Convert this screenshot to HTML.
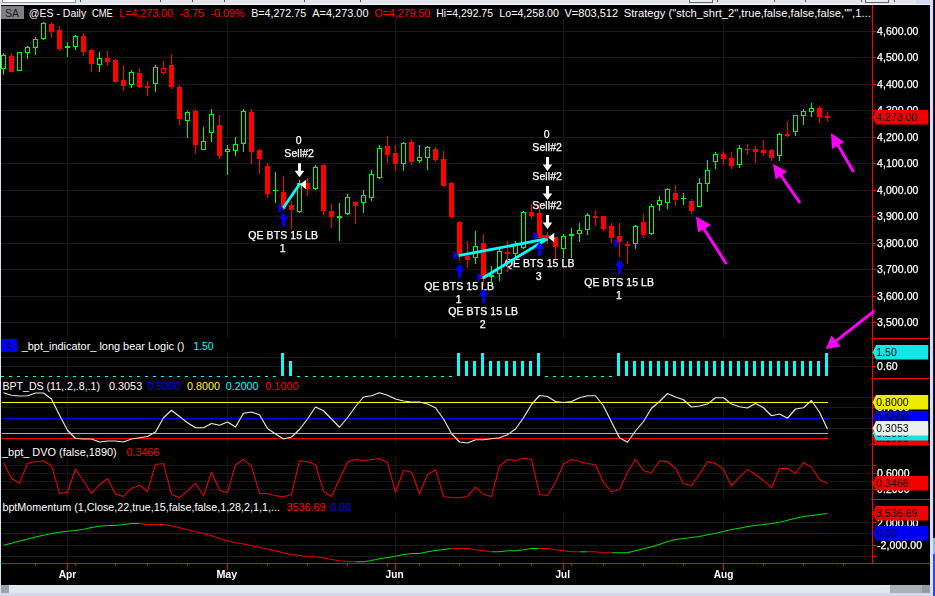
<!DOCTYPE html>
<html><head><meta charset="utf-8"><title>chart</title>
<style>
html,body{margin:0;padding:0;background:#d8dcea;overflow:hidden;}
body{width:935px;height:596px;font-family:"Liberation Sans",sans-serif;}
svg{display:block;position:absolute;left:0;top:0;}
text{white-space:pre;}
</style></head><body>
<svg width="935" height="596" viewBox="0 0 935 596">
<g shape-rendering="crispEdges">
<rect x="1" y="5" width="929" height="580" fill="#000"/>
<rect x="1" y="31" width="871" height="1" fill="#181818"/>
<rect x="1" y="57" width="871" height="1" fill="#181818"/>
<rect x="1" y="84" width="871" height="1" fill="#181818"/>
<rect x="1" y="110" width="871" height="1" fill="#181818"/>
<rect x="1" y="137" width="871" height="1" fill="#181818"/>
<rect x="1" y="163" width="871" height="1" fill="#181818"/>
<rect x="1" y="190" width="871" height="1" fill="#181818"/>
<rect x="1" y="216" width="871" height="1" fill="#181818"/>
<rect x="1" y="243" width="871" height="1" fill="#181818"/>
<rect x="1" y="269" width="871" height="1" fill="#181818"/>
<rect x="1" y="296" width="871" height="1" fill="#181818"/>
<rect x="1" y="322" width="871" height="1" fill="#181818"/>
<rect x="1" y="357" width="871" height="1" fill="#181818"/>
<rect x="1" y="366" width="871" height="1" fill="#181818"/>
<rect x="1" y="397" width="871" height="1" fill="#181818"/>
<rect x="1" y="407" width="871" height="1" fill="#181818"/>
<rect x="1" y="418" width="871" height="1" fill="#181818"/>
<rect x="1" y="428" width="871" height="1" fill="#181818"/>
<rect x="1" y="465" width="871" height="1" fill="#181818"/>
<rect x="1" y="473" width="871" height="1" fill="#181818"/>
<rect x="1" y="481" width="871" height="1" fill="#181818"/>
<rect x="1" y="489" width="871" height="1" fill="#181818"/>
<rect x="1" y="522" width="871" height="1" fill="#181818"/>
<rect x="1" y="533" width="871" height="1" fill="#181818"/>
<rect x="1" y="545" width="871" height="1" fill="#181818"/>
<rect x="1" y="556" width="871" height="1" fill="#181818"/>
<rect x="67" y="19" width="1" height="318" fill="#181818"/>
<rect x="67" y="353" width="1" height="24" fill="#181818"/>
<rect x="67" y="392" width="1" height="52" fill="#181818"/>
<rect x="67" y="458" width="1" height="40" fill="#181818"/>
<rect x="67" y="513" width="1" height="50" fill="#181818"/>
<rect x="227" y="19" width="1" height="318" fill="#181818"/>
<rect x="227" y="353" width="1" height="24" fill="#181818"/>
<rect x="227" y="392" width="1" height="52" fill="#181818"/>
<rect x="227" y="458" width="1" height="40" fill="#181818"/>
<rect x="227" y="513" width="1" height="50" fill="#181818"/>
<rect x="395" y="19" width="1" height="318" fill="#181818"/>
<rect x="395" y="353" width="1" height="24" fill="#181818"/>
<rect x="395" y="392" width="1" height="52" fill="#181818"/>
<rect x="395" y="458" width="1" height="40" fill="#181818"/>
<rect x="395" y="513" width="1" height="50" fill="#181818"/>
<rect x="563" y="19" width="1" height="318" fill="#181818"/>
<rect x="563" y="353" width="1" height="24" fill="#181818"/>
<rect x="563" y="392" width="1" height="52" fill="#181818"/>
<rect x="563" y="458" width="1" height="40" fill="#181818"/>
<rect x="563" y="513" width="1" height="50" fill="#181818"/>
<rect x="723" y="19" width="1" height="318" fill="#181818"/>
<rect x="723" y="353" width="1" height="24" fill="#181818"/>
<rect x="723" y="392" width="1" height="52" fill="#181818"/>
<rect x="723" y="458" width="1" height="40" fill="#181818"/>
<rect x="723" y="513" width="1" height="50" fill="#181818"/>
</g>
<g font-family="Liberation Sans, sans-serif" font-size="10.5px" fill="#fff" stroke="#fff" stroke-width="0.25" text-anchor="middle" letter-spacing="0.08" style="filter:grayscale(1)">
<text x="298.6" y="143.8">0</text>
<text x="299.2" y="157.0">Sell#2</text>
<text x="546.8" y="137.8">0</text>
<text x="547.2" y="150.8">Sell#2</text>
<text x="547.2" y="180.4">Sell#2</text>
<text x="547.2" y="209.4">Sell#2</text>
<text x="283.2" y="239.2">QE BTS 15 LB</text>
<text x="282.6" y="252.4">1</text>
<text x="459.2" y="290.2">QE BTS 15 LB</text>
<text x="458.6" y="302.8">1</text>
<text x="483.2" y="315.2">QE BTS 15 LB</text>
<text x="482.6" y="327.8">2</text>
<text x="539.6" y="267.2">QE BTS 15 LB</text>
<text x="538.8" y="280">3</text>
<text x="619.2" y="286.2">QE BTS 15 LB</text>
<text x="619" y="299.2">1</text>
</g>
<g shape-rendering="crispEdges">
<rect x="3" y="53" width="1" height="2" fill="#00ff00"/>
<rect x="3" y="69" width="1" height="6" fill="#00ff00"/>
<rect x="1" y="55" width="5" height="14" fill="#00ff00"/>
<rect x="2" y="56" width="3" height="12" fill="#000"/>
<rect x="11" y="53" width="1" height="19" fill="#ff0000"/>
<rect x="9" y="56" width="5" height="16" fill="#ff0000"/>
<rect x="17" y="52" width="5" height="19" fill="#00ff00"/>
<rect x="18" y="53" width="3" height="17" fill="#000"/>
<rect x="27" y="46" width="1" height="1" fill="#00ff00"/>
<rect x="27" y="53" width="1" height="6" fill="#00ff00"/>
<rect x="25" y="47" width="5" height="6" fill="#00ff00"/>
<rect x="26" y="48" width="3" height="4" fill="#000"/>
<rect x="35" y="37" width="1" height="2" fill="#00ff00"/>
<rect x="35" y="48" width="1" height="7" fill="#00ff00"/>
<rect x="33" y="39" width="5" height="9" fill="#00ff00"/>
<rect x="34" y="40" width="3" height="7" fill="#000"/>
<rect x="43" y="22" width="1" height="1" fill="#00ff00"/>
<rect x="43" y="39" width="1" height="1" fill="#00ff00"/>
<rect x="41" y="23" width="5" height="16" fill="#00ff00"/>
<rect x="42" y="24" width="3" height="14" fill="#000"/>
<rect x="51" y="22" width="1" height="16" fill="#ff0000"/>
<rect x="49" y="24" width="5" height="8" fill="#ff0000"/>
<rect x="59" y="26" width="1" height="25" fill="#ff0000"/>
<rect x="57" y="30" width="5" height="19" fill="#ff0000"/>
<rect x="67" y="42" width="1" height="15" fill="#00ff00"/>
<rect x="65" y="46" width="5" height="2" fill="#00ff00"/>
<rect x="75" y="35" width="1" height="1" fill="#00ff00"/>
<rect x="75" y="47" width="1" height="3" fill="#00ff00"/>
<rect x="73" y="36" width="5" height="11" fill="#00ff00"/>
<rect x="74" y="37" width="3" height="9" fill="#000"/>
<rect x="83" y="33" width="1" height="23" fill="#ff0000"/>
<rect x="81" y="36" width="5" height="16" fill="#ff0000"/>
<rect x="91" y="49" width="1" height="23" fill="#ff0000"/>
<rect x="89" y="50" width="5" height="14" fill="#ff0000"/>
<rect x="99" y="52" width="1" height="6" fill="#00ff00"/>
<rect x="99" y="65" width="1" height="7" fill="#00ff00"/>
<rect x="97" y="58" width="5" height="7" fill="#00ff00"/>
<rect x="98" y="59" width="3" height="5" fill="#000"/>
<rect x="107" y="51" width="1" height="15" fill="#ff0000"/>
<rect x="105" y="58" width="5" height="4" fill="#ff0000"/>
<rect x="115" y="59" width="1" height="24" fill="#ff0000"/>
<rect x="113" y="60" width="5" height="22" fill="#ff0000"/>
<rect x="123" y="65" width="1" height="26" fill="#ff0000"/>
<rect x="121" y="80" width="5" height="6" fill="#ff0000"/>
<rect x="131" y="70" width="1" height="2" fill="#00ff00"/>
<rect x="131" y="85" width="1" height="3" fill="#00ff00"/>
<rect x="129" y="72" width="5" height="13" fill="#00ff00"/>
<rect x="130" y="73" width="3" height="11" fill="#000"/>
<rect x="139" y="68" width="1" height="20" fill="#ff0000"/>
<rect x="137" y="73" width="5" height="14" fill="#ff0000"/>
<rect x="147" y="81" width="1" height="15" fill="#ff0000"/>
<rect x="145" y="86" width="5" height="2" fill="#ff0000"/>
<rect x="155" y="65" width="1" height="2" fill="#00ff00"/>
<rect x="155" y="84" width="1" height="8" fill="#00ff00"/>
<rect x="153" y="67" width="5" height="17" fill="#00ff00"/>
<rect x="154" y="68" width="3" height="15" fill="#000"/>
<rect x="163" y="61" width="1" height="7" fill="#ff0000"/>
<rect x="163" y="73" width="1" height="2" fill="#ff0000"/>
<rect x="161" y="68" width="5" height="5" fill="#ff0000"/>
<rect x="162" y="69" width="3" height="3" fill="#000"/>
<rect x="171" y="54" width="1" height="35" fill="#ff0000"/>
<rect x="169" y="65" width="5" height="22" fill="#ff0000"/>
<rect x="179" y="85" width="1" height="40" fill="#ff0000"/>
<rect x="177" y="87" width="5" height="32" fill="#ff0000"/>
<rect x="187" y="111" width="1" height="1" fill="#00ff00"/>
<rect x="187" y="121" width="1" height="17" fill="#00ff00"/>
<rect x="185" y="112" width="5" height="9" fill="#00ff00"/>
<rect x="186" y="113" width="3" height="7" fill="#000"/>
<rect x="195" y="109" width="1" height="45" fill="#ff0000"/>
<rect x="193" y="111" width="5" height="34" fill="#ff0000"/>
<rect x="203" y="127" width="1" height="14" fill="#00ff00"/>
<rect x="201" y="141" width="5" height="9" fill="#00ff00"/>
<rect x="202" y="142" width="3" height="7" fill="#000"/>
<rect x="211" y="109" width="1" height="5" fill="#00ff00"/>
<rect x="211" y="133" width="1" height="9" fill="#00ff00"/>
<rect x="209" y="114" width="5" height="19" fill="#00ff00"/>
<rect x="210" y="115" width="3" height="17" fill="#000"/>
<rect x="219" y="115" width="1" height="44" fill="#ff0000"/>
<rect x="217" y="125" width="5" height="31" fill="#ff0000"/>
<rect x="227" y="145" width="1" height="4" fill="#00ff00"/>
<rect x="227" y="152" width="1" height="23" fill="#00ff00"/>
<rect x="225" y="149" width="5" height="3" fill="#00ff00"/>
<rect x="226" y="150" width="3" height="1" fill="#000"/>
<rect x="235" y="137" width="1" height="7" fill="#00ff00"/>
<rect x="235" y="151" width="1" height="5" fill="#00ff00"/>
<rect x="233" y="144" width="5" height="7" fill="#00ff00"/>
<rect x="234" y="145" width="3" height="5" fill="#000"/>
<rect x="243" y="109" width="1" height="2" fill="#00ff00"/>
<rect x="243" y="144" width="1" height="8" fill="#00ff00"/>
<rect x="241" y="111" width="5" height="33" fill="#00ff00"/>
<rect x="242" y="112" width="3" height="31" fill="#000"/>
<rect x="251" y="109" width="1" height="55" fill="#ff0000"/>
<rect x="249" y="112" width="5" height="40" fill="#ff0000"/>
<rect x="259" y="149" width="1" height="25" fill="#ff0000"/>
<rect x="257" y="150" width="5" height="9" fill="#ff0000"/>
<rect x="267" y="163" width="1" height="35" fill="#ff0000"/>
<rect x="265" y="166" width="5" height="28" fill="#ff0000"/>
<rect x="275" y="172" width="1" height="31" fill="#00ff00"/>
<rect x="273" y="190" width="5" height="1" fill="#00ff00"/>
<rect x="283" y="176" width="1" height="33" fill="#ff0000"/>
<rect x="281" y="192" width="5" height="17" fill="#ff0000"/>
<rect x="291" y="201" width="1" height="28" fill="#ff0000"/>
<rect x="289" y="205" width="5" height="5" fill="#ff0000"/>
<rect x="299" y="180" width="1" height="3" fill="#00ff00"/>
<rect x="299" y="212" width="1" height="1" fill="#00ff00"/>
<rect x="297" y="183" width="5" height="29" fill="#00ff00"/>
<rect x="298" y="184" width="3" height="27" fill="#000"/>
<rect x="307" y="178" width="1" height="18" fill="#ff0000"/>
<rect x="305" y="183" width="5" height="6" fill="#ff0000"/>
<rect x="315" y="165" width="1" height="2" fill="#00ff00"/>
<rect x="315" y="189" width="1" height="1" fill="#00ff00"/>
<rect x="313" y="167" width="5" height="22" fill="#00ff00"/>
<rect x="314" y="168" width="3" height="20" fill="#000"/>
<rect x="323" y="164" width="1" height="51" fill="#ff0000"/>
<rect x="321" y="165" width="5" height="46" fill="#ff0000"/>
<rect x="331" y="204" width="1" height="24" fill="#ff0000"/>
<rect x="329" y="211" width="5" height="6" fill="#ff0000"/>
<rect x="339" y="203" width="1" height="38" fill="#00ff00"/>
<rect x="337" y="216" width="5" height="2" fill="#00ff00"/>
<rect x="347" y="194" width="1" height="3" fill="#00ff00"/>
<rect x="347" y="214" width="1" height="1" fill="#00ff00"/>
<rect x="345" y="197" width="5" height="17" fill="#00ff00"/>
<rect x="346" y="198" width="3" height="15" fill="#000"/>
<rect x="355" y="201" width="1" height="23" fill="#ff0000"/>
<rect x="353" y="202" width="5" height="4" fill="#ff0000"/>
<rect x="363" y="190" width="1" height="5" fill="#00ff00"/>
<rect x="363" y="203" width="1" height="10" fill="#00ff00"/>
<rect x="361" y="195" width="5" height="8" fill="#00ff00"/>
<rect x="362" y="196" width="3" height="6" fill="#000"/>
<rect x="371" y="170" width="1" height="4" fill="#00ff00"/>
<rect x="371" y="198" width="1" height="3" fill="#00ff00"/>
<rect x="369" y="174" width="5" height="24" fill="#00ff00"/>
<rect x="370" y="175" width="3" height="22" fill="#000"/>
<rect x="379" y="145" width="1" height="3" fill="#00ff00"/>
<rect x="379" y="178" width="1" height="1" fill="#00ff00"/>
<rect x="377" y="148" width="5" height="30" fill="#00ff00"/>
<rect x="378" y="149" width="3" height="28" fill="#000"/>
<rect x="387" y="136" width="1" height="27" fill="#ff0000"/>
<rect x="385" y="146" width="5" height="9" fill="#ff0000"/>
<rect x="395" y="145" width="1" height="26" fill="#ff0000"/>
<rect x="393" y="153" width="5" height="11" fill="#ff0000"/>
<rect x="403" y="142" width="1" height="1" fill="#00ff00"/>
<rect x="403" y="164" width="1" height="7" fill="#00ff00"/>
<rect x="401" y="143" width="5" height="21" fill="#00ff00"/>
<rect x="402" y="144" width="3" height="19" fill="#000"/>
<rect x="411" y="139" width="1" height="26" fill="#ff0000"/>
<rect x="409" y="142" width="5" height="20" fill="#ff0000"/>
<rect x="419" y="145" width="1" height="12" fill="#00ff00"/>
<rect x="419" y="161" width="1" height="2" fill="#00ff00"/>
<rect x="417" y="157" width="5" height="4" fill="#00ff00"/>
<rect x="418" y="158" width="3" height="2" fill="#000"/>
<rect x="427" y="146" width="1" height="1" fill="#00ff00"/>
<rect x="427" y="158" width="1" height="12" fill="#00ff00"/>
<rect x="425" y="147" width="5" height="11" fill="#00ff00"/>
<rect x="426" y="148" width="3" height="9" fill="#000"/>
<rect x="435" y="147" width="1" height="15" fill="#ff0000"/>
<rect x="433" y="149" width="5" height="11" fill="#ff0000"/>
<rect x="443" y="151" width="1" height="36" fill="#ff0000"/>
<rect x="441" y="159" width="5" height="27" fill="#ff0000"/>
<rect x="451" y="182" width="1" height="36" fill="#ff0000"/>
<rect x="449" y="183" width="5" height="34" fill="#ff0000"/>
<rect x="459" y="221" width="1" height="40" fill="#ff0000"/>
<rect x="457" y="222" width="5" height="33" fill="#ff0000"/>
<rect x="467" y="241" width="1" height="27" fill="#ff0000"/>
<rect x="465" y="256" width="5" height="4" fill="#ff0000"/>
<rect x="475" y="231" width="1" height="15" fill="#00ff00"/>
<rect x="475" y="258" width="1" height="6" fill="#00ff00"/>
<rect x="473" y="246" width="5" height="12" fill="#00ff00"/>
<rect x="474" y="247" width="3" height="10" fill="#000"/>
<rect x="483" y="234" width="1" height="52" fill="#ff0000"/>
<rect x="481" y="243" width="5" height="36" fill="#ff0000"/>
<rect x="491" y="266" width="1" height="17" fill="#00ff00"/>
<rect x="489" y="275" width="5" height="2" fill="#00ff00"/>
<rect x="499" y="249" width="1" height="2" fill="#00ff00"/>
<rect x="499" y="274" width="1" height="7" fill="#00ff00"/>
<rect x="497" y="251" width="5" height="23" fill="#00ff00"/>
<rect x="498" y="252" width="3" height="21" fill="#000"/>
<rect x="507" y="241" width="1" height="31" fill="#ff0000"/>
<rect x="505" y="252" width="5" height="2" fill="#ff0000"/>
<rect x="515" y="241" width="1" height="3" fill="#00ff00"/>
<rect x="515" y="254" width="1" height="3" fill="#00ff00"/>
<rect x="513" y="244" width="5" height="10" fill="#00ff00"/>
<rect x="514" y="245" width="3" height="8" fill="#000"/>
<rect x="523" y="211" width="1" height="1" fill="#00ff00"/>
<rect x="523" y="248" width="1" height="1" fill="#00ff00"/>
<rect x="521" y="212" width="5" height="36" fill="#00ff00"/>
<rect x="522" y="213" width="3" height="34" fill="#000"/>
<rect x="531" y="204" width="1" height="15" fill="#ff0000"/>
<rect x="529" y="212" width="5" height="4" fill="#ff0000"/>
<rect x="539" y="203" width="1" height="35" fill="#ff0000"/>
<rect x="537" y="213" width="5" height="25" fill="#ff0000"/>
<rect x="547" y="232" width="1" height="12" fill="#ff0000"/>
<rect x="545" y="235" width="5" height="3" fill="#ff0000"/>
<rect x="555" y="237" width="1" height="22" fill="#ff0000"/>
<rect x="553" y="237" width="5" height="10" fill="#ff0000"/>
<rect x="563" y="234" width="1" height="2" fill="#00ff00"/>
<rect x="563" y="249" width="1" height="9" fill="#00ff00"/>
<rect x="561" y="236" width="5" height="13" fill="#00ff00"/>
<rect x="562" y="237" width="3" height="11" fill="#000"/>
<rect x="571" y="228" width="1" height="30" fill="#00ff00"/>
<rect x="569" y="234" width="5" height="2" fill="#00ff00"/>
<rect x="579" y="223" width="1" height="7" fill="#00ff00"/>
<rect x="579" y="234" width="1" height="8" fill="#00ff00"/>
<rect x="577" y="230" width="5" height="4" fill="#00ff00"/>
<rect x="578" y="231" width="3" height="2" fill="#000"/>
<rect x="587" y="213" width="1" height="2" fill="#00ff00"/>
<rect x="587" y="230" width="1" height="5" fill="#00ff00"/>
<rect x="585" y="215" width="5" height="15" fill="#00ff00"/>
<rect x="586" y="216" width="3" height="13" fill="#000"/>
<rect x="595" y="210" width="1" height="16" fill="#ff0000"/>
<rect x="593" y="216" width="5" height="2" fill="#ff0000"/>
<rect x="603" y="216" width="1" height="15" fill="#ff0000"/>
<rect x="601" y="216" width="5" height="13" fill="#ff0000"/>
<rect x="611" y="223" width="1" height="20" fill="#ff0000"/>
<rect x="609" y="226" width="5" height="12" fill="#ff0000"/>
<rect x="619" y="223" width="1" height="34" fill="#ff0000"/>
<rect x="617" y="236" width="5" height="6" fill="#ff0000"/>
<rect x="627" y="241" width="1" height="23" fill="#ff0000"/>
<rect x="625" y="244" width="5" height="2" fill="#ff0000"/>
<rect x="635" y="225" width="1" height="1" fill="#00ff00"/>
<rect x="635" y="244" width="1" height="5" fill="#00ff00"/>
<rect x="633" y="226" width="5" height="18" fill="#00ff00"/>
<rect x="634" y="227" width="3" height="16" fill="#000"/>
<rect x="643" y="214" width="1" height="24" fill="#ff0000"/>
<rect x="641" y="222" width="5" height="13" fill="#ff0000"/>
<rect x="651" y="204" width="1" height="2" fill="#00ff00"/>
<rect x="651" y="234" width="1" height="1" fill="#00ff00"/>
<rect x="649" y="206" width="5" height="28" fill="#00ff00"/>
<rect x="650" y="207" width="3" height="26" fill="#000"/>
<rect x="659" y="196" width="1" height="4" fill="#00ff00"/>
<rect x="659" y="205" width="1" height="6" fill="#00ff00"/>
<rect x="657" y="200" width="5" height="5" fill="#00ff00"/>
<rect x="658" y="201" width="3" height="3" fill="#000"/>
<rect x="667" y="188" width="1" height="1" fill="#00ff00"/>
<rect x="667" y="203" width="1" height="6" fill="#00ff00"/>
<rect x="665" y="189" width="5" height="14" fill="#00ff00"/>
<rect x="666" y="190" width="3" height="12" fill="#000"/>
<rect x="675" y="185" width="1" height="21" fill="#ff0000"/>
<rect x="673" y="193" width="5" height="7" fill="#ff0000"/>
<rect x="683" y="193" width="1" height="12" fill="#00ff00"/>
<rect x="681" y="198" width="5" height="1" fill="#00ff00"/>
<rect x="691" y="199" width="1" height="15" fill="#ff0000"/>
<rect x="689" y="201" width="5" height="10" fill="#ff0000"/>
<rect x="699" y="178" width="1" height="5" fill="#00ff00"/>
<rect x="697" y="183" width="5" height="24" fill="#00ff00"/>
<rect x="698" y="184" width="3" height="22" fill="#000"/>
<rect x="707" y="160" width="1" height="10" fill="#00ff00"/>
<rect x="707" y="184" width="1" height="8" fill="#00ff00"/>
<rect x="705" y="170" width="5" height="14" fill="#00ff00"/>
<rect x="706" y="171" width="3" height="12" fill="#000"/>
<rect x="715" y="152" width="1" height="2" fill="#00ff00"/>
<rect x="715" y="162" width="1" height="7" fill="#00ff00"/>
<rect x="713" y="154" width="5" height="8" fill="#00ff00"/>
<rect x="714" y="155" width="3" height="6" fill="#000"/>
<rect x="723" y="151" width="1" height="14" fill="#ff0000"/>
<rect x="721" y="154" width="5" height="5" fill="#ff0000"/>
<rect x="731" y="152" width="1" height="17" fill="#ff0000"/>
<rect x="729" y="158" width="5" height="8" fill="#ff0000"/>
<rect x="739" y="145" width="1" height="3" fill="#00ff00"/>
<rect x="739" y="165" width="1" height="3" fill="#00ff00"/>
<rect x="737" y="148" width="5" height="17" fill="#00ff00"/>
<rect x="738" y="149" width="3" height="15" fill="#000"/>
<rect x="747" y="144" width="1" height="11" fill="#ff0000"/>
<rect x="745" y="149" width="5" height="1" fill="#ff0000"/>
<rect x="755" y="146" width="1" height="17" fill="#ff0000"/>
<rect x="753" y="149" width="5" height="3" fill="#ff0000"/>
<rect x="763" y="140" width="1" height="16" fill="#ff0000"/>
<rect x="761" y="150" width="5" height="3" fill="#ff0000"/>
<rect x="771" y="149" width="1" height="12" fill="#ff0000"/>
<rect x="769" y="150" width="5" height="8" fill="#ff0000"/>
<rect x="779" y="133" width="1" height="1" fill="#00ff00"/>
<rect x="779" y="156" width="1" height="5" fill="#00ff00"/>
<rect x="777" y="134" width="5" height="22" fill="#00ff00"/>
<rect x="778" y="135" width="3" height="20" fill="#000"/>
<rect x="787" y="121" width="1" height="16" fill="#ff0000"/>
<rect x="785" y="134" width="5" height="2" fill="#ff0000"/>
<rect x="795" y="132" width="1" height="4" fill="#00ff00"/>
<rect x="793" y="115" width="5" height="17" fill="#00ff00"/>
<rect x="794" y="116" width="3" height="15" fill="#000"/>
<rect x="803" y="109" width="1" height="2" fill="#00ff00"/>
<rect x="803" y="116" width="1" height="9" fill="#00ff00"/>
<rect x="801" y="111" width="5" height="5" fill="#00ff00"/>
<rect x="802" y="112" width="3" height="3" fill="#000"/>
<rect x="811" y="103" width="1" height="5" fill="#00ff00"/>
<rect x="811" y="112" width="1" height="5" fill="#00ff00"/>
<rect x="809" y="108" width="5" height="4" fill="#00ff00"/>
<rect x="810" y="109" width="3" height="2" fill="#000"/>
<rect x="819" y="106" width="1" height="17" fill="#ff0000"/>
<rect x="817" y="108" width="5" height="9" fill="#ff0000"/>
<rect x="827" y="112" width="1" height="10" fill="#ff0000"/>
<rect x="825" y="116" width="5" height="2" fill="#ff0000"/>
</g>
<g stroke="#00ffff" stroke-width="2.8" stroke-linecap="butt">
<line x1="282.5" y1="209" x2="300" y2="183.5"/>
<line x1="458.5" y1="255.6" x2="547.5" y2="238.7"/>
<line x1="482.5" y1="278.2" x2="547.5" y2="238.7"/>
</g>
<path d="M298.0 163.3H301.0V170.8H304.3L299.5 177.3L294.7 170.8H298.0Z" fill="#fff"/>
<path d="M300 184.5L306 179.7V189.3Z" fill="#fff"/>
<path d="M283.6 208.4L278.3 203.9V212.9Z" fill="#0000ff"/>
<path d="M283.5 212.4L288.3 219.20000000000002H285.1V226.6H281.9V219.20000000000002H278.7Z" fill="#0000ff"/>
<path d="M546.0 157H549.0V164.5H552.3L547.5 171L542.7 164.5H546.0Z" fill="#fff"/>
<path d="M546.0 186H549.0V193.5H552.3L547.5 200L542.7 193.5H546.0Z" fill="#fff"/>
<path d="M546.0 215H549.0V222.5H552.3L547.5 229L542.7 222.5H546.0Z" fill="#fff"/>
<path d="M548.2 237.5L554.2 232.7V242.3Z" fill="#fff"/>
<path d="M458.6 255.5L453.3 251.0V260.0Z" fill="#0000ff"/>
<path d="M459.5 263.6L464.3 270.40000000000003H461.1V277.8H457.9V270.40000000000003H454.7Z" fill="#0000ff"/>
<path d="M482.6 277L477.3 272.5V281.5Z" fill="#0000ff"/>
<path d="M483.5 288.6L488.3 295.40000000000003H485.1V302.8H481.9V295.40000000000003H478.7Z" fill="#0000ff"/>
<path d="M538.5999999999999 236L533.3 231.5V240.5Z" fill="#0000ff"/>
<path d="M539.5 242L544.3 248.8H541.1V256.2H537.9V248.8H534.7Z" fill="#0000ff"/>
<line x1="538.5" y1="236.4" x2="548.5" y2="237.2" stroke="#ff0000" stroke-width="2.8"/>
<path d="M619.5999999999999 243L614.3 238.5V247.5Z" fill="#0000ff"/>
<path d="M619.5 259.6L624.3 266.40000000000003H621.1V273.8H617.9V266.40000000000003H614.7Z" fill="#0000ff"/>
<line x1="701.4" y1="225.0" x2="726.4" y2="264" stroke="#ff00ff" stroke-width="3"/>
<polygon points="696,216.6 711,225 698,232.4" fill="#ff00ff"/>
<line x1="778.7" y1="172.2" x2="800" y2="203" stroke="#ff00ff" stroke-width="3"/>
<polygon points="773,164 787,171.6 775.6,179.6" fill="#ff00ff"/>
<line x1="836.0" y1="141.7" x2="853.6" y2="172" stroke="#ff00ff" stroke-width="3"/>
<polygon points="831,133 844,142 832,149" fill="#ff00ff"/>
<g shape-rendering="crispEdges" fill="#00ffff">
<rect x="1" y="376" width="3" height="1"/>
<rect x="9" y="376" width="3" height="1"/>
<rect x="17" y="376" width="3" height="1"/>
<rect x="25" y="376" width="3" height="1"/>
<rect x="33" y="376" width="3" height="1"/>
<rect x="41" y="376" width="3" height="1"/>
<rect x="49" y="376" width="3" height="1"/>
<rect x="57" y="376" width="3" height="1"/>
<rect x="65" y="376" width="3" height="1"/>
<rect x="73" y="376" width="3" height="1"/>
<rect x="81" y="376" width="3" height="1"/>
<rect x="89" y="376" width="3" height="1"/>
<rect x="97" y="376" width="3" height="1"/>
<rect x="105" y="376" width="3" height="1"/>
<rect x="113" y="376" width="3" height="1"/>
<rect x="121" y="376" width="3" height="1"/>
<rect x="129" y="376" width="3" height="1"/>
<rect x="137" y="376" width="3" height="1"/>
<rect x="145" y="376" width="3" height="1"/>
<rect x="153" y="376" width="3" height="1"/>
<rect x="161" y="376" width="3" height="1"/>
<rect x="169" y="376" width="3" height="1"/>
<rect x="177" y="376" width="3" height="1"/>
<rect x="185" y="376" width="3" height="1"/>
<rect x="193" y="376" width="3" height="1"/>
<rect x="201" y="376" width="3" height="1"/>
<rect x="209" y="376" width="3" height="1"/>
<rect x="217" y="376" width="3" height="1"/>
<rect x="225" y="376" width="3" height="1"/>
<rect x="233" y="376" width="3" height="1"/>
<rect x="241" y="376" width="3" height="1"/>
<rect x="249" y="376" width="3" height="1"/>
<rect x="257" y="376" width="3" height="1"/>
<rect x="265" y="376" width="3" height="1"/>
<rect x="273" y="376" width="3" height="1"/>
<rect x="281" y="353" width="3" height="23"/>
<rect x="289" y="361" width="3" height="15"/>
<rect x="297" y="376" width="3" height="1"/>
<rect x="305" y="376" width="3" height="1"/>
<rect x="313" y="376" width="3" height="1"/>
<rect x="321" y="376" width="3" height="1"/>
<rect x="329" y="376" width="3" height="1"/>
<rect x="337" y="376" width="3" height="1"/>
<rect x="345" y="376" width="3" height="1"/>
<rect x="353" y="376" width="3" height="1"/>
<rect x="361" y="376" width="3" height="1"/>
<rect x="369" y="376" width="3" height="1"/>
<rect x="377" y="376" width="3" height="1"/>
<rect x="385" y="376" width="3" height="1"/>
<rect x="393" y="376" width="3" height="1"/>
<rect x="401" y="376" width="3" height="1"/>
<rect x="409" y="376" width="3" height="1"/>
<rect x="417" y="376" width="3" height="1"/>
<rect x="425" y="376" width="3" height="1"/>
<rect x="433" y="376" width="3" height="1"/>
<rect x="441" y="376" width="3" height="1"/>
<rect x="449" y="376" width="3" height="1"/>
<rect x="457" y="353" width="3" height="23"/>
<rect x="465" y="361" width="3" height="15"/>
<rect x="473" y="361" width="3" height="15"/>
<rect x="481" y="353" width="3" height="23"/>
<rect x="489" y="361" width="3" height="15"/>
<rect x="497" y="361" width="3" height="15"/>
<rect x="505" y="361" width="3" height="15"/>
<rect x="513" y="361" width="3" height="15"/>
<rect x="521" y="361" width="3" height="15"/>
<rect x="529" y="361" width="3" height="15"/>
<rect x="537" y="353" width="3" height="23"/>
<rect x="545" y="376" width="3" height="1"/>
<rect x="553" y="376" width="3" height="1"/>
<rect x="561" y="376" width="3" height="1"/>
<rect x="569" y="376" width="3" height="1"/>
<rect x="577" y="376" width="3" height="1"/>
<rect x="585" y="376" width="3" height="1"/>
<rect x="593" y="376" width="3" height="1"/>
<rect x="601" y="376" width="3" height="1"/>
<rect x="609" y="376" width="3" height="1"/>
<rect x="617" y="353" width="3" height="23"/>
<rect x="625" y="361" width="3" height="15"/>
<rect x="633" y="361" width="3" height="15"/>
<rect x="641" y="361" width="3" height="15"/>
<rect x="649" y="361" width="3" height="15"/>
<rect x="657" y="361" width="3" height="15"/>
<rect x="665" y="361" width="3" height="15"/>
<rect x="673" y="361" width="3" height="15"/>
<rect x="681" y="361" width="3" height="15"/>
<rect x="689" y="361" width="3" height="15"/>
<rect x="697" y="361" width="3" height="15"/>
<rect x="705" y="361" width="3" height="15"/>
<rect x="713" y="361" width="3" height="15"/>
<rect x="721" y="361" width="3" height="15"/>
<rect x="729" y="361" width="3" height="15"/>
<rect x="737" y="361" width="3" height="15"/>
<rect x="745" y="361" width="3" height="15"/>
<rect x="753" y="361" width="3" height="15"/>
<rect x="761" y="361" width="3" height="15"/>
<rect x="769" y="361" width="3" height="15"/>
<rect x="777" y="361" width="3" height="15"/>
<rect x="785" y="361" width="3" height="15"/>
<rect x="793" y="361" width="3" height="15"/>
<rect x="801" y="361" width="3" height="15"/>
<rect x="809" y="361" width="3" height="15"/>
<rect x="817" y="361" width="3" height="15"/>
<rect x="825" y="353" width="3" height="23"/>
</g>
<g shape-rendering="crispEdges">
<rect x="2" y="402" width="826" height="1" fill="#ffff00"/>
<rect x="2" y="418" width="826" height="1" fill="#0000ff"/>
<rect x="2" y="433" width="826" height="1" fill="#00ffff"/>
<rect x="2" y="438" width="826" height="1" fill="#ff0000"/>
<rect x="2" y="533" width="826" height="1" fill="#0000ff"/>
</g>
<polyline points="3.5,392.75 11.5,395.25 19.5,396 27.5,395.75 35.5,393 43.5,393 51.5,399 59.5,415.25 67.5,430.25 75.5,438.5 83.5,439 91.5,439 99.5,442 107.5,441 115.5,441 123.5,442 131.5,439 139.5,437.75 147.5,436.5 155.5,432 163.5,417.75 171.5,410.25 179.5,416.5 187.5,422.75 195.5,427.75 203.5,427.75 211.5,423.5 219.5,425.25 227.5,422 235.5,427 243.5,413.25 251.5,412 259.5,414.75 267.5,428.5 275.5,434 283.5,439 291.5,437 299.5,429.5 307.5,419 315.5,407 323.5,410.75 331.5,419 339.5,427.25 347.5,417.75 355.5,406.5 363.5,397 371.5,395.75 379.5,392.75 387.5,395.25 395.5,399 403.5,401 411.5,402 419.5,402 427.5,404 435.5,407.75 443.5,419 451.5,433.5 459.5,442 467.5,443 475.5,439.75 483.5,439.75 491.5,438.75 499.5,437.75 507.5,434.75 515.5,429 523.5,417.75 531.5,404.5 539.5,395.5 547.5,396.5 555.5,401.5 563.5,402.5 571.5,401.5 579.5,397.75 587.5,395.75 595.5,395.75 603.5,406 611.5,422 619.5,437.75 627.5,442.25 635.5,431 643.5,421.5 651.5,408.25 659.5,401.5 667.5,393.5 675.5,397 683.5,399.75 691.5,407 699.5,406 707.5,404 715.5,397.75 723.5,397.75 731.5,404 739.5,406.75 747.5,408 755.5,403.5 763.5,407.75 771.5,415.75 779.5,414 787.5,418.25 795.5,409 803.5,407.75 811.5,400.5 819.5,412.25 827.5,429" fill="none" stroke="#ece8dc" stroke-width="1.15" stroke-linejoin="round"/>
<polyline points="3.5,462.2 11.5,478.2 19.5,483.2 27.5,463.2 35.5,461.7 43.5,460.7 51.5,465.7 59.5,493.45 67.5,492.2 75.5,468.95 83.5,480.95 91.5,493.45 99.5,484.7 107.5,478.45 115.5,493.95 123.5,496.45 131.5,488.2 139.5,485.2 147.5,491.45 155.5,464.45 163.5,463.45 171.5,494.45 179.5,497.7 187.5,490.95 195.5,483.2 203.5,495.7 211.5,472.2 219.5,490.2 227.5,492.7 235.5,464.7 243.5,459.45 251.5,466.45 259.5,493.45 267.5,493.45 275.5,495.7 283.5,496.7 291.5,494.45 299.5,460.7 307.5,461.7 315.5,464.7 323.5,491.45 331.5,496.45 339.5,478.95 347.5,461.95 355.5,459.45 363.5,460.45 371.5,459.45 379.5,458.45 387.5,462.7 395.5,492.2 403.5,470.45 411.5,471.95 419.5,493.95 427.5,474.45 435.5,469.7 443.5,496.45 451.5,497.7 459.5,497.7 467.5,496.45 475.5,487.2 483.5,494.45 491.5,496.45 499.5,465.95 507.5,459.45 515.5,460.45 523.5,458.2 531.5,459.45 539.5,494.45 547.5,495.45 555.5,482.2 563.5,463.95 571.5,459.45 579.5,461.45 587.5,463.45 595.5,464.7 603.5,482.7 611.5,491.7 619.5,489.45 627.5,472.2 635.5,459.2 643.5,470.7 651.5,472.7 659.5,460.7 667.5,461.7 675.5,468.2 683.5,483.45 691.5,485.7 699.5,473.95 707.5,461.45 715.5,463.45 723.5,469.45 731.5,485.95 739.5,476.95 747.5,469.45 755.5,474.45 763.5,480.7 771.5,487.7 779.5,468.45 787.5,468.45 795.5,473.45 803.5,462.45 811.5,467.2 819.5,479.45 827.5,483.45" fill="none" stroke="#e80000" stroke-width="1.1" stroke-linejoin="round"/>
<polyline points="3.5,545.3 11.5,543.3 19.5,541.05 27.5,539.05 35.5,537.05 43.5,535.3 51.5,533.55 59.5,532.3 67.5,531.3 75.5,530.55 83.5,529.3 91.5,527.55 99.5,526.3 107.5,525.55 115.5,525.55 123.5,524.55 131.5,523.55 139.5,523.55" fill="none" stroke="#00d800" stroke-width="1.05" stroke-linejoin="round"/>
<polyline points="139.5,523.55 147.5,524.55 155.5,524.55 163.5,524.55 171.5,525.8 179.5,527.8 187.5,529.8 195.5,531.8 203.5,533.55 211.5,535.8 219.5,538.55 227.5,540.8 235.5,542.8 243.5,544.05 251.5,545.8 259.5,547.3 267.5,549.05 275.5,550.8 283.5,552.8 291.5,554.55 299.5,555.55 307.5,556.55 315.5,556.8 323.5,557.8 331.5,559.55 339.5,560.8 347.5,561.55 355.5,561.8" fill="none" stroke="#e80000" stroke-width="1.05" stroke-linejoin="round"/>
<polyline points="355.5,561.8 363.5,561.8 371.5,560.55 379.5,558.8 387.5,557.55 395.5,556.3 403.5,554.55 411.5,553.55 419.5,553.55 427.5,551.8 435.5,550.55 443.5,549.55 451.5,548.55" fill="none" stroke="#00d800" stroke-width="1.05" stroke-linejoin="round"/>
<polyline points="451.5,548.55 459.5,548.55 467.5,548.55 475.5,549.8 483.5,550.8 491.5,551.8" fill="none" stroke="#e80000" stroke-width="1.05" stroke-linejoin="round"/>
<polyline points="491.5,551.8 499.5,551.8 507.5,550.8 515.5,550.8 523.5,549.8 531.5,548.55 539.5,548.55" fill="none" stroke="#00d800" stroke-width="1.05" stroke-linejoin="round"/>
<polyline points="539.5,548.55 547.5,548.55 555.5,549.8 563.5,550.8 571.5,551.8 579.5,551.8" fill="none" stroke="#e80000" stroke-width="1.05" stroke-linejoin="round"/>
<polyline points="579.5,551.8 587.5,551.8" fill="none" stroke="#00d800" stroke-width="1.05" stroke-linejoin="round"/>
<polyline points="587.5,551.8 595.5,551.8 603.5,552.8 611.5,552.8" fill="none" stroke="#e80000" stroke-width="1.05" stroke-linejoin="round"/>
<polyline points="611.5,552.8 619.5,552.8 627.5,552.8 635.5,550.8 643.5,548.8 651.5,546.8 659.5,544.55 667.5,541.55 675.5,539.55 683.5,538.55 691.5,537.55 699.5,536.55 707.5,534.8 715.5,533.3 723.5,531.55 731.5,529.55 739.5,528.3 747.5,526.55 755.5,525.55 763.5,524.55 771.5,523.55 779.5,522.3 787.5,520.3 795.5,518.3 803.5,516.55 811.5,515.55 819.5,514.55 827.5,513.55" fill="none" stroke="#00d800" stroke-width="1.05" stroke-linejoin="round"/>
<g shape-rendering="crispEdges">
<rect x="1" y="563" width="929" height="1" fill="#ff0000"/>
<rect x="35" y="564" width="1" height="2" fill="#ff0000"/>
<rect x="75" y="564" width="1" height="2" fill="#ff0000"/>
<rect x="115" y="564" width="1" height="2" fill="#ff0000"/>
<rect x="147" y="564" width="1" height="2" fill="#ff0000"/>
<rect x="187" y="564" width="1" height="2" fill="#ff0000"/>
<rect x="267" y="564" width="1" height="2" fill="#ff0000"/>
<rect x="307" y="564" width="1" height="2" fill="#ff0000"/>
<rect x="347" y="564" width="1" height="2" fill="#ff0000"/>
<rect x="387" y="564" width="1" height="2" fill="#ff0000"/>
<rect x="419" y="564" width="1" height="2" fill="#ff0000"/>
<rect x="459" y="564" width="1" height="2" fill="#ff0000"/>
<rect x="499" y="564" width="1" height="2" fill="#ff0000"/>
<rect x="531" y="564" width="1" height="2" fill="#ff0000"/>
<rect x="571" y="564" width="1" height="2" fill="#ff0000"/>
<rect x="603" y="564" width="1" height="2" fill="#ff0000"/>
<rect x="643" y="564" width="1" height="2" fill="#ff0000"/>
<rect x="683" y="564" width="1" height="2" fill="#ff0000"/>
<rect x="763" y="564" width="1" height="2" fill="#ff0000"/>
<rect x="803" y="564" width="1" height="2" fill="#ff0000"/>
<rect x="843" y="564" width="1" height="2" fill="#ff0000"/>
<rect x="67" y="564" width="1" height="6" fill="#ff0000"/>
<rect x="227" y="564" width="1" height="6" fill="#ff0000"/>
<rect x="395" y="564" width="1" height="6" fill="#ff0000"/>
<rect x="563" y="564" width="1" height="6" fill="#ff0000"/>
<rect x="723" y="564" width="1" height="6" fill="#ff0000"/>
<rect x="872" y="5" width="1" height="559" fill="#ff0000"/>
<rect x="873" y="31" width="3" height="1" fill="#ff0000"/>
<rect x="873" y="57" width="3" height="1" fill="#ff0000"/>
<rect x="873" y="84" width="3" height="1" fill="#ff0000"/>
<rect x="873" y="110" width="3" height="1" fill="#ff0000"/>
<rect x="873" y="137" width="3" height="1" fill="#ff0000"/>
<rect x="873" y="163" width="3" height="1" fill="#ff0000"/>
<rect x="873" y="190" width="3" height="1" fill="#ff0000"/>
<rect x="873" y="216" width="3" height="1" fill="#ff0000"/>
<rect x="873" y="243" width="3" height="1" fill="#ff0000"/>
<rect x="873" y="269" width="3" height="1" fill="#ff0000"/>
<rect x="873" y="296" width="3" height="1" fill="#ff0000"/>
<rect x="873" y="322" width="3" height="1" fill="#ff0000"/>
<rect x="873" y="357" width="3" height="1" fill="#ff0000"/>
<rect x="873" y="366" width="3" height="1" fill="#ff0000"/>
<rect x="873" y="397" width="3" height="1" fill="#ff0000"/>
<rect x="873" y="407" width="3" height="1" fill="#ff0000"/>
<rect x="873" y="418" width="3" height="1" fill="#ff0000"/>
<rect x="873" y="428" width="3" height="1" fill="#ff0000"/>
<rect x="873" y="465" width="3" height="1" fill="#ff0000"/>
<rect x="873" y="473" width="3" height="1" fill="#ff0000"/>
<rect x="873" y="481" width="3" height="1" fill="#ff0000"/>
<rect x="873" y="489" width="3" height="1" fill="#ff0000"/>
<rect x="873" y="522" width="3" height="1" fill="#ff0000"/>
<rect x="873" y="533" width="3" height="1" fill="#ff0000"/>
<rect x="873" y="545" width="3" height="1" fill="#ff0000"/>
<rect x="873" y="556" width="3" height="1" fill="#ff0000"/>
<rect x="871" y="338" width="59" height="1" fill="#ff0000"/>
<rect x="871" y="378" width="59" height="1" fill="#ff0000"/>
<rect x="871" y="444" width="59" height="1" fill="#ff0000"/>
<rect x="871" y="499" width="59" height="1" fill="#ff0000"/>
</g>
<clipPath id="cp"><rect x="0" y="0" width="874.6" height="596"/></clipPath>
<g clip-path="url(#cp)">
<line x1="833.6" y1="342.9" x2="880" y2="306.5" stroke="#ff00ff" stroke-width="3"/>
<polygon points="825.7,349.1 831.5,335.5 840.5,346.5" fill="#ff00ff"/>
</g>
<g font-family="Liberation Sans, sans-serif" font-size="10.5px" fill="#fff" stroke="#fff" stroke-width="0.25" letter-spacing="0.08" style="filter:grayscale(1)">
<text x="877" y="35.4">4,600.00</text>
<text x="877" y="61.4">4,500.00</text>
<text x="877" y="88.4">4,400.00</text>
<text x="877" y="114.4">4,300.00</text>
<text x="877" y="141.4">4,200.00</text>
<text x="877" y="167.4">4,100.00</text>
<text x="877" y="194.4">4,000.00</text>
<text x="877" y="220.4">3,900.00</text>
<text x="877" y="247.4">3,800.00</text>
<text x="877" y="273.4">3,700.00</text>
<text x="877" y="300.4">3,600.00</text>
<text x="877" y="326.4">3,500.00</text>
<text x="877" y="370">0.60</text>
<text x="877" y="411.2">0.7000</text>
<text x="877" y="477">0.6000</text>
<text x="877" y="493.4">0.2000</text>
<text x="877" y="526.6">2,000.00</text>
<text x="877" y="549.4">-2,000.00</text>
</g>
<g style="filter:saturate(1.0001)">
<path d="M872.6 117.3L876 110H928.2V124.4H876Z" fill="#f00000"/>
<text x="876.2" y="120.9" font-family="Liberation Sans, sans-serif" font-size="10.5px" letter-spacing="0.08" fill="#000">4,273.00</text>
<path d="M872.6 352.3L876 345H928.2V359.4H876Z" fill="#10e8e8"/>
<text x="876.2" y="355.9" font-family="Liberation Sans, sans-serif" font-size="10.5px" letter-spacing="0.08" fill="#000">1.50</text>
<path d="M872.6 438.3L876 431H928.2V445.4H876Z" fill="#f00000"/>
<text x="876.2" y="441.9" font-family="Liberation Sans, sans-serif" font-size="10.5px" letter-spacing="0.08" fill="#000">0.1000</text>
<path d="M872.6 433.3L876 426H928.2V440.4H876Z" fill="#10e8e8"/>
<text x="876.2" y="436.9" font-family="Liberation Sans, sans-serif" font-size="10.5px" letter-spacing="0.08" fill="#000">0.2000</text>
<path d="M872.6 418.3L876 411H928.2V425.4H876Z" fill="#0000f0"/>
<text x="876.2" y="421.9" font-family="Liberation Sans, sans-serif" font-size="10.5px" letter-spacing="0.08" fill="#000">0.5000</text>
<path d="M872.6 428.3L876 421H928.2V435.4H876Z" fill="#eaf0ec"/>
<text x="876.2" y="431.9" font-family="Liberation Sans, sans-serif" font-size="10.5px" letter-spacing="0.08" fill="#000">0.3053</text>
<path d="M872.6 402.3L876 395H928.2V409.4H876Z" fill="#ecec00"/>
<text x="876.2" y="405.9" font-family="Liberation Sans, sans-serif" font-size="10.5px" letter-spacing="0.08" fill="#000">0.8000</text>
<path d="M872.6 483.3L876 476H928.2V490.4H876Z" fill="#f00000"/>
<text x="876.2" y="486.9" font-family="Liberation Sans, sans-serif" font-size="10.5px" letter-spacing="0.08" fill="#000">0.3466</text>
<path d="M872.6 513.3L876 506H928.2V520.4H876Z" fill="#f00000"/>
<text x="876.2" y="516.9" font-family="Liberation Sans, sans-serif" font-size="10.5px" letter-spacing="0.08" fill="#000">3,536.69</text>
<path d="M872.6 533.3L876 526H928.2V540.4H876Z" fill="#0000f0"/>
<text x="876.2" y="536.9" font-family="Liberation Sans, sans-serif" font-size="10.5px" letter-spacing="0.08" fill="#000030">0.00</text>
</g>
<g font-family="Liberation Sans, sans-serif" font-size="10.5px" letter-spacing="0.08">
<rect x="1" y="6" width="23" height="13" fill="#808080" shape-rendering="crispEdges"/>
<text x="5" y="16.8" fill="#181830" font-size="10.5px">SA</text>
<text x="28.8" y="16.8" fill="#fff" textLength="57.4" letter-spacing="0" lengthAdjust="spacingAndGlyphs">@ES - Daily</text>
<text x="92.0" y="16.8" fill="#fff" textLength="20.9" letter-spacing="0" lengthAdjust="spacingAndGlyphs">CME</text>
<text x="119.3" y="16.8" fill="#ff0000" textLength="53.6" letter-spacing="0" lengthAdjust="spacingAndGlyphs">L=4,273.00</text>
<text x="179.3" y="16.8" fill="#ff0000" textLength="24.9" letter-spacing="0" lengthAdjust="spacingAndGlyphs">-3.75</text>
<text x="210.4" y="16.8" fill="#ff0000" textLength="34.3" letter-spacing="0" lengthAdjust="spacingAndGlyphs">-0.09%</text>
<text x="251.2" y="16.8" fill="#fff" textLength="54.9" letter-spacing="0" lengthAdjust="spacingAndGlyphs">B=4,272.75</text>
<text x="312.3" y="16.8" fill="#fff" textLength="56.2" letter-spacing="0" lengthAdjust="spacingAndGlyphs">A=4,273.00</text>
<text x="374.5" y="16.8" fill="#ff0000" textLength="55.6" letter-spacing="0" lengthAdjust="spacingAndGlyphs">O=4,279.50</text>
<text x="436.3" y="16.8" fill="#fff" textLength="56.7" letter-spacing="0" lengthAdjust="spacingAndGlyphs">Hi=4,292.75</text>
<text x="499.3" y="16.8" fill="#fff" textLength="59.7" letter-spacing="0" lengthAdjust="spacingAndGlyphs">Lo=4,258.00</text>
<text x="564.5" y="16.8" fill="#fff" textLength="53.6" letter-spacing="0" lengthAdjust="spacingAndGlyphs">V=803,512</text>
<text x="623.7" y="16.8" fill="#fff" textLength="247.1" letter-spacing="0" lengthAdjust="spacingAndGlyphs">Strategy (&quot;stch_shrt_2&quot;,true,false,false,false,&quot;&quot;,1...</text>
<rect x="1" y="339" width="16" height="13" fill="#0000ff" shape-rendering="crispEdges"/>
<text x="5.2" y="349.8" fill="#000028">A</text>
<text x="21.7" y="349.8" fill="#fff" textLength="162.7" letter-spacing="0" lengthAdjust="spacingAndGlyphs">_bpt_indicator_ long bear Logic ()</text>
<text x="193.4" y="349.8" fill="#00ffff" textLength="20.1" letter-spacing="0" lengthAdjust="spacingAndGlyphs">1.50</text>
<text x="2.4" y="390.2" fill="#fff" textLength="97.6" letter-spacing="0" lengthAdjust="spacingAndGlyphs">BPT_DS (11,.2,.8,.1)</text>
<text x="109.0" y="390.2" fill="#fff" textLength="33.2" letter-spacing="0" lengthAdjust="spacingAndGlyphs">0.3053</text>
<text x="147.5" y="390.2" fill="#0000ff" textLength="33.0" letter-spacing="0" lengthAdjust="spacingAndGlyphs">0.5000</text>
<text x="187.0" y="390.2" fill="#ffff00" textLength="33.0" letter-spacing="0" lengthAdjust="spacingAndGlyphs">0.8000</text>
<text x="225.8" y="390.2" fill="#00ffff" textLength="32.7" letter-spacing="0" lengthAdjust="spacingAndGlyphs">0.2000</text>
<text x="265.3" y="390.2" fill="#ff0000" textLength="33.2" letter-spacing="0" lengthAdjust="spacingAndGlyphs">0.1000</text>
<text x="2.0" y="455.8" fill="#fff" textLength="114.7" letter-spacing="0" lengthAdjust="spacingAndGlyphs">_bpt_ DVO (false,1890)</text>
<text x="126.5" y="455.8" fill="#ff0000" textLength="32.8" letter-spacing="0" lengthAdjust="spacingAndGlyphs">0.3466</text>
<text x="2.4" y="511" fill="#fff" textLength="277.6" letter-spacing="0" lengthAdjust="spacingAndGlyphs">bptMomentum (1,Close,22,true,15,false,false,1,28,2,1,1,...</text>
<text x="286.5" y="511" fill="#ff0000" textLength="39.0" letter-spacing="0" lengthAdjust="spacingAndGlyphs">3536.69</text>
<text x="330.3" y="511" fill="#0000ff" textLength="21.0" letter-spacing="0" lengthAdjust="spacingAndGlyphs">0.00</text>
</g>
<g font-family="Liberation Sans, sans-serif" font-size="10.5px" fill="#fff" font-weight="bold" style="filter:grayscale(1)">
<text x="58.7" y="577.8" textLength="17.6" lengthAdjust="spacingAndGlyphs">Apr</text>
<text x="216.4" y="577.8" textLength="20.9" lengthAdjust="spacingAndGlyphs">May</text>
<text x="385.6" y="577.8" textLength="18.0" lengthAdjust="spacingAndGlyphs">Jun</text>
<text x="555.6" y="577.8" textLength="14.3" lengthAdjust="spacingAndGlyphs">Jul</text>
<text x="713.8" y="577.8" textLength="19.6" lengthAdjust="spacingAndGlyphs">Aug</text>
</g>
<g shape-rendering="crispEdges">
<rect x="0" y="0" width="935" height="4" fill="#e4e5ea"/>
<rect x="0" y="4" width="935" height="1" fill="#f2f4fa"/>
<rect x="916" y="0" width="19" height="4" fill="#d4d8f0"/>
<rect x="3" y="0" width="72" height="2" fill="#ffffff"/>
<rect x="3" y="2" width="72" height="1" fill="#9098a8"/>
<rect x="2" y="0" width="1" height="3" fill="#9098a8"/>
<rect x="75" y="0" width="1" height="3" fill="#9098a8"/>
<rect x="80" y="0" width="1" height="2" fill="#505050"/>
<rect x="160" y="0" width="1" height="2" fill="#505050"/>
<rect x="192" y="0" width="1" height="2" fill="#505050"/>
<rect x="224" y="0" width="1" height="2" fill="#505050"/>
<rect x="304" y="0" width="1" height="2" fill="#505050"/>
<rect x="360" y="0" width="1" height="2" fill="#505050"/>
<rect x="717" y="0" width="1" height="2" fill="#505050"/>
<rect x="774" y="0" width="1" height="2" fill="#505050"/>
<rect x="805" y="0" width="1" height="2" fill="#505050"/>
<rect x="861" y="0" width="1" height="2" fill="#505050"/>
<rect x="894" y="0" width="1" height="2" fill="#505050"/>
<rect x="690" y="0" width="22" height="2" fill="#ececee"/>
<rect x="690" y="2" width="23" height="1" fill="#606468"/>
<rect x="689" y="0" width="1" height="3" fill="#606468"/>
<rect x="712" y="0" width="1" height="3" fill="#606468"/>
<rect x="866" y="0" width="22" height="2" fill="#ececee"/>
<rect x="866" y="2" width="23" height="1" fill="#606468"/>
<rect x="865" y="0" width="1" height="3" fill="#606468"/>
<rect x="888" y="0" width="1" height="3" fill="#606468"/>
<rect x="0" y="0" width="1" height="596" fill="#dcdff0"/>
<rect x="930" y="0" width="3" height="596" fill="#dcdff0"/>
<rect x="933" y="0" width="1" height="596" fill="#0000ff"/>
<rect x="934" y="0" width="1" height="538" fill="#000"/>
<rect x="933" y="538" width="2" height="16" fill="#90b8f0"/>
<rect x="933" y="554" width="2" height="42" fill="#2848f0"/>
<rect x="0" y="585" width="930" height="8" fill="#e0e5ee"/>
<rect x="1" y="585" width="8" height="8" fill="#9aa4b0"/>
<rect x="890" y="585" width="32" height="8" fill="#a8b0b8"/>
<rect x="922" y="585" width="8" height="8" fill="#929ca4"/>
<rect x="0" y="593" width="933" height="3" fill="#d4d8e8"/>
</g>
</svg>
</body></html>
